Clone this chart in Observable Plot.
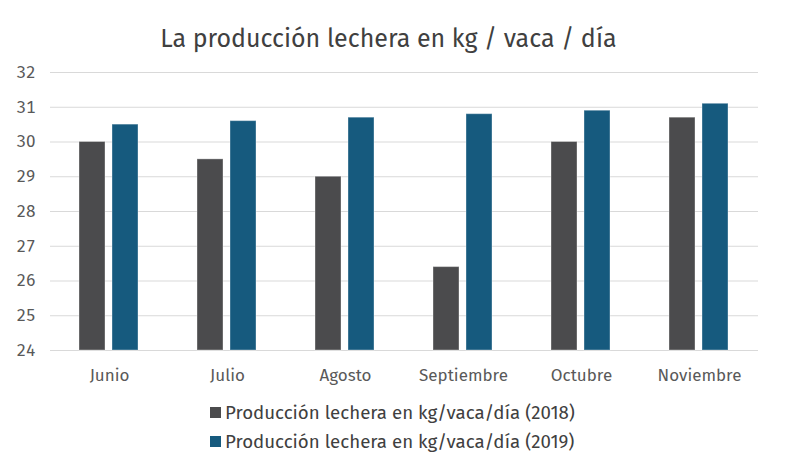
<!DOCTYPE html>
<html>
<head>
<meta charset="utf-8">
<script src="https://cdn.jsdelivr.net/npm/d3@7"></script>
<script src="https://cdn.jsdelivr.net/npm/@observablehq/plot@0.6"></script>
<style>
  html, body { margin: 0; padding: 0; background: #fff; }
  #wrap { width: 789px; height: 467px; position: relative; font-family: "Fira Sans", "Lato", sans-serif; }
  #title { height: 58px; box-sizing: border-box; padding-top: 24px; padding-right: 12px; line-height: 30px; text-align: center; font-size: 25px; color: #404040; }
  #legend { margin-top: 10px; padding-left: 210px; font-size: 18.7px; color: #404040; }
  .row { height: 29px; display: flex; align-items: center; }
  .sw { width: 11px; height: 11px; margin-right: 4px; display: inline-block; }
</style>
</head>
<body>
<div id="wrap">
  <div id="title">La producción lechera en kg / vaca / día</div>
  <div id="chart"></div>
  <div id="legend"></div>
</div>
<script>
const months = ["Junio", "Julio", "Agosto", "Septiembre", "Octubre", "Noviembre"];
const seriesNames = ["Producción lechera en kg/vaca/día (2018)", "Producción lechera en kg/vaca/día (2019)"];
const seriesKeys = ["2018", "2019"];
const values2018 = [30, 29.5, 29, 26.4, 30, 30.7];
const values2019 = [30.5, 30.6, 30.7, 30.8, 30.9, 31.1];
const yTicks = [24, 25, 26, 27, 28, 29, 30, 31, 32];
const colors = ["#4b4b4d", "#165a7e"];

const data = [];
months.forEach((m, i) => {
  data.push({month: m, series: seriesKeys[0], value: values2018[i]});
  data.push({month: m, series: seriesKeys[1], value: values2019[i]});
});
const base = d3.min(yTicks);

const plot = Plot.plot({
  width: 789,
  height: 330,
  marginTop: 14,
  marginBottom: 38,
  marginLeft: 47,
  marginRight: 29,
  style: {fontFamily: "'Fira Sans', Lato, sans-serif", fontSize: "17px", color: "#595959", background: "#fff"},
  fx: {domain: months, padding: 0, label: null, axis: "bottom", tickSize: 0, tickPadding: 18},
  x: {domain: seriesKeys, paddingInner: 0.206, paddingOuter: 0.85, axis: null},
  y: {domain: [base, d3.max(yTicks)], ticks: yTicks, label: null, tickSize: 0, tickPadding: 15},
  color: {domain: seriesKeys, range: colors},
  marks: [
    Plot.gridY(yTicks, {stroke: "#d9d9d9", strokeOpacity: 1, strokeWidth: 1}),
    Plot.barY(data, {fx: "month", x: "series", y1: base, y2: "value", fill: "series", stroke: "#ffffff", strokeOpacity: 0.35, strokeWidth: 1})
  ]
});
document.getElementById("chart").appendChild(plot);

const legend = d3.select("#legend");
seriesNames.forEach((name, i) => {
  const row = legend.append("div").attr("class", "row");
  row.append("span").attr("class", "sw").style("background", colors[i]);
  row.append("span").text(name);
});
</script>
</body>
</html>
